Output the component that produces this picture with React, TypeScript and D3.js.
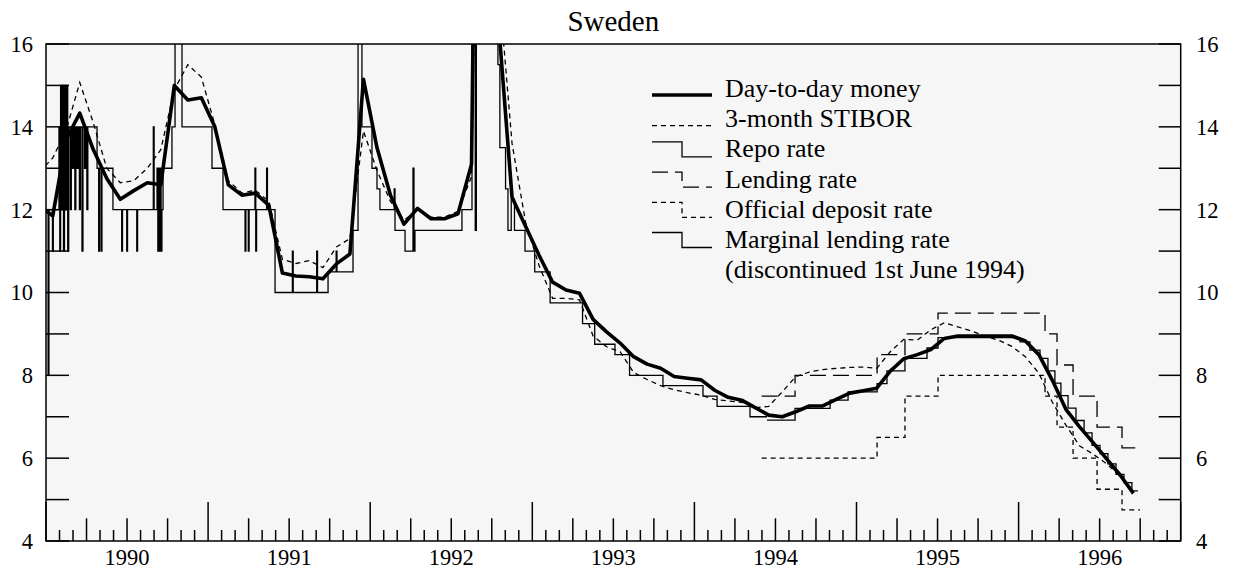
import React from 'react';
import * as d3 from 'd3';

// ---------------- DATA ----------------
const chartTitle = 'Sweden';
const yTickValues = [4, 5, 6, 7, 8, 9, 10, 11, 12, 13, 14, 15, 16];
const yLabelValues = [4, 6, 8, 10, 12, 14, 16];
const yearLabels = [1990, 1991, 1992, 1993, 1994, 1995, 1996];

// monthly averages, first value = Dec 1989, then Jan 1990 ... Sep 1996
const dayToDayMoney = [
  12.1,
  11.85, 13.7, 14.33, 13.45, 12.75, 12.25, 12.46, 12.65, 12.6, 15.0, 14.65, 14.7,
  14.0, 12.6, 12.35, 12.4, 12.1, 10.47, 10.4, 10.38, 10.33, 10.69, 10.93, 15.15,
  13.5, 12.35, 11.65, 12.03, 11.78, 11.78, 11.9, 13.1, 40, 16.5, 12.3, 11.6,
  10.9, 10.25, 10.06, 9.98, 9.35, 9.05, 8.78, 8.45, 8.27, 8.17, 7.97, 7.93,
  7.89, 7.64, 7.47, 7.4, 7.22, 7.04, 7.0, 7.12, 7.26, 7.26, 7.42, 7.57,
  7.63, 7.69, 8.1, 8.4, 8.5, 8.62, 8.89, 8.95, 8.95, 8.95, 8.95, 8.95,
  8.83, 8.5, 7.88, 7.18, 6.76, 6.38, 5.99, 5.6, 5.15,
];

const stibor3m = [
  12.9,
  13.25, 13.93, 15.07, 14.1, 13.0, 12.65, 12.7, 13.0, 13.45, 14.9, 15.5, 15.2,
  14.05, 12.7, 12.4, 12.47, 12.2, 10.8, 10.7, 10.77, 10.6, 11.1, 11.3, 13.9,
  12.95, 12.2, 11.75, 11.99, 11.82, 11.82, 11.96, 12.8, 30, 17.5, 13.6, 11.7,
  10.65, 9.86, 9.86, 9.82, 8.95, 8.69, 8.57, 8.07, 7.9, 7.75, 7.65, 7.58,
  7.52, 7.42, 7.38, 7.35, 7.22, 7.25, 7.6, 7.97, 8.08, 8.14, 8.17, 8.19,
  8.2, 8.17, 8.57, 8.87, 8.85, 9.1, 9.27, 9.17, 9.07, 8.95, 8.85, 8.7,
  8.45, 8.05, 7.35, 6.8, 6.3, 6.1, 5.87, 5.57, 5.2,
];
const monthlyStart = 1989 + 11.5 / 12; // mid-December 1989

// step series: [decimal year, rate]
const marginalLendingRate: [number, number][] = [
  [1990.0, 12], [1990.013, 8], [1990.018, 12], [1990.04, 11], [1990.045, 12],
  [1990.08, 14], [1990.085, 11], [1990.09, 15], [1990.096, 12], [1990.102, 15],
  [1990.108, 11], [1990.114, 15], [1990.122, 12], [1990.128, 15], [1990.134, 11],
  [1990.14, 14], [1990.15, 12], [1990.156, 14], [1990.164, 13], [1990.17, 14],
  [1990.178, 12], [1990.184, 14], [1990.192, 13], [1990.198, 14], [1990.206, 12],
  [1990.212, 14], [1990.222, 11], [1990.228, 14], [1990.238, 13], [1990.244, 14],
  [1990.252, 12], [1990.258, 14], [1990.315, 13], [1990.325, 11], [1990.33, 13],
  [1990.34, 11], [1990.345, 13], [1990.413, 12], [1990.467, 11], [1990.472, 12],
  [1990.498, 11], [1990.503, 12], [1990.56, 11], [1990.565, 12], [1990.662, 14],
  [1990.667, 12], [1990.685, 13], [1990.69, 11], [1990.695, 13], [1990.7, 11],
  [1990.705, 13], [1990.71, 11], [1990.715, 12], [1990.722, 13], [1990.777, 14],
  [1990.796, 20], [1990.839, 14], [1991.024, 13], [1991.092, 12], [1991.228, 11],
  [1991.233, 12], [1991.248, 11], [1991.253, 12], [1991.289, 13], [1991.294, 11],
  [1991.299, 12], [1991.361, 13], [1991.366, 12], [1991.413, 10], [1991.52, 11],
  [1991.525, 10], [1991.67, 11], [1991.675, 10], [1991.74, 10.5], [1991.79, 11],
  [1991.795, 10.5], [1991.894, 11.5], [1991.925, 17.5], [1991.949, 14], [1992.011, 13],
  [1992.042, 12.5], [1992.06, 12], [1992.148, 12.5], [1992.153, 11.5], [1992.215, 11],
  [1992.264, 13], [1992.27, 11], [1992.276, 11.5], [1992.566, 12], [1992.628, 24],
  [1992.648, 11.5], [1992.655, 75], [1992.788, 15.5], [1992.8, 13.5], [1992.835, 12.5],
  [1992.85, 11.5], [1992.87, 12.25], [1992.89, 11.5], [1992.955, 11], [1993.015, 10.5],
  [1993.11, 9.75], [1993.31, 9.25], [1993.385, 8.75], [1993.51, 8.5], [1993.6, 8.0],
  [1993.806, 7.75], [1994.053, 7.5], [1994.14, 7.25], [1994.343, 7.0], [1994.448, 7.0],
];

const repoRate: [number, number][] = [
  [1994.448, 6.92], [1994.621, 7.2], [1994.837, 7.4], [1994.948, 7.6], [1995.127, 7.8],
  [1995.188, 8.11], [1995.299, 8.41], [1995.435, 8.66], [1995.503, 8.91], [1996.009, 8.81],
  [1996.07, 8.61], [1996.132, 8.41], [1996.181, 8.11], [1996.224, 7.81], [1996.261, 7.51],
  [1996.305, 7.21], [1996.354, 6.91], [1996.404, 6.61], [1996.453, 6.31], [1996.502, 6.11],
  [1996.551, 5.86], [1996.601, 5.61], [1996.65, 5.41], [1996.699, 5.21], [1996.736, 5.21],
];

const lendingRate: [number, number][] = [
  [1994.415, 7.5], [1994.621, 8.0], [1995.127, 8.5], [1995.299, 9.0], [1995.503, 9.5],
  [1996.163, 9.0], [1996.237, 8.25], [1996.336, 7.5], [1996.484, 6.75], [1996.638, 6.25],
  [1996.749, 6.25],
];

const depositRate: [number, number][] = [
  [1994.415, 6.0], [1995.127, 6.5], [1995.299, 7.5], [1995.503, 8.0], [1996.163, 7.5],
  [1996.237, 6.75], [1996.336, 6.0], [1996.484, 5.25], [1996.638, 4.75], [1996.749, 4.75],
];

const legendLabels = [
  'Day-to-day money',
  '3-month STIBOR',
  'Repo rate',
  'Lending rate',
  'Official deposit rate',
  'Marginal lending rate',
  '(discontinued 1st June 1994)',
];

// ---------------- LAYOUT ----------------
const W = 1234;
const H = 569;
const M = { left: 46, right: 1180.7, top: 44, bottom: 541 };
const FONT = "'Liberation Serif', 'Times New Roman', Times, serif";
const txt = { fontFamily: FONT };

export default function App() {
  const x = d3.scaleLinear().domain([1990, 1997]).range([M.left, M.right]);
  const y = d3.scaleLinear().domain([4, 16]).range([M.bottom, M.top]);

  const lineGen = d3
    .line<[number, number]>()
    .x((d) => x(d[0]))
    .y((d) => y(d[1]));
  const stepGen = d3
    .line<[number, number]>()
    .x((d) => x(d[0]))
    .y((d) => y(d[1]))
    .curve(d3.curveStepAfter);

  const monthly = (vals: number[]): [number, number][] =>
    vals.map((v, i) => [monthlyStart + i / 12, v]);

  const monthTicks = d3.range(0, 7 * 12 + 1).map((i) => ({
    t: 1990 + i / 12,
    len: i % 12 === 0 ? 39 : i % 3 === 0 ? 22.7 : 11,
  }));

  const legX0 = 652;
  const legX1 = 712;
  const legXm = 682;
  const legText = 725;
  const base = (i: number) => 97 + 30.2 * i;

  const thin = 1.3;

  return (
    <svg
      width={W}
      height={H}
      style={{ position: 'absolute', left: 0, top: 0, background: '#fff' }}
    >
      <defs>
        <clipPath id="plotClip">
          <rect x={M.left} y={M.top} width={M.right - M.left} height={M.bottom - M.top} />
        </clipPath>
      </defs>
      <rect x={M.left} y={M.top} width={M.right - M.left} height={M.bottom - M.top} fill="#f6f6f6" />

      <text x={(M.left + M.right) / 2} y={31} textAnchor="middle" fontSize={29} fill="#000" style={txt}>
        {chartTitle}
      </text>

      {/* series */}
      <g clipPath="url(#plotClip)" fill="none" stroke="#000">
        <path d={stepGen(marginalLendingRate) || ''} strokeWidth={thin} />
        <path d={stepGen(repoRate) || ''} strokeWidth={thin} />
        <path d={stepGen(lendingRate) || ''} strokeWidth={thin} strokeDasharray="16,7" />
        <path d={stepGen(depositRate) || ''} strokeWidth={thin} strokeDasharray="5,4" />
        <path d={lineGen(monthly(stibor3m)) || ''} strokeWidth={thin} strokeDasharray="5,4" />
        <path d={lineGen(monthly(dayToDayMoney)) || ''} strokeWidth={3.6} strokeLinejoin="round" />
      </g>

      {/* frame */}
      <rect
        x={M.left}
        y={M.top}
        width={M.right - M.left}
        height={M.bottom - M.top}
        fill="none"
        stroke="#000"
        strokeWidth={1.5}
      />

      {/* y ticks */}
      {yTickValues.map((v) => (
        <g key={'yt' + v} stroke="#000" strokeWidth={1.5}>
          <line x1={M.left} x2={M.left + 23} y1={y(v)} y2={y(v)} />
          <line x1={M.right - 22} x2={M.right} y1={y(v)} y2={y(v)} />
        </g>
      ))}
      {yLabelValues.map((v) => (
        <g key={'yl' + v} fontSize={22.5} fill="#000" style={txt}>
          <text x={33} y={y(v)} dy="0.35em" textAnchor="end" style={txt}>
            {v}
          </text>
          <text x={1196} y={y(v)} dy="0.35em" textAnchor="start" style={txt}>
            {v}
          </text>
        </g>
      ))}

      {/* x ticks */}
      {monthTicks.map((d, i) => (
        <line
          key={'xt' + i}
          x1={x(d.t)}
          x2={x(d.t)}
          y1={M.bottom}
          y2={M.bottom - d.len}
          stroke="#000"
          strokeWidth={1.5}
        />
      ))}
      {yearLabels.map((yr) => (
        <text
          key={'xl' + yr}
          x={x(yr + 0.5)}
          y={565}
          textAnchor="middle"
          fontSize={22.5}
          fill="#000"
          style={txt}
        >
          {yr}
        </text>
      ))}

      {/* legend */}
      <g fill="none" stroke="#000">
        <line x1={legX0} x2={legX1} y1={base(0) - 2} y2={base(0) - 2} strokeWidth={3.6} />
        <line x1={legX0} x2={legX1} y1={base(1) - 1.5} y2={base(1) - 1.5} strokeWidth={thin} strokeDasharray="5,4" />
        <path d={`M${legX0},${base(2) - 15.5}H${legXm}V${base(2) - 0.5}H${legX1}`} strokeWidth={thin} />
        <path
          d={`M${legX0},${base(3) - 15.5}H${legXm}V${base(3) - 0.5}H${legX1}`}
          strokeWidth={thin}
          strokeDasharray="16,7"
        />
        <path
          d={`M${legX0},${base(4) - 15.5}H${legXm}V${base(4) - 0.5}H${legX1}`}
          strokeWidth={thin}
          strokeDasharray="5,4"
        />
        <path d={`M${legX0},${base(5) - 15.5}H${legXm}V${base(5) - 0.5}H${legX1}`} strokeWidth={thin} />
      </g>
      <g fontSize={26} fill="#000">
        {legendLabels.map((l, i) => (
          <text key={'lg' + i} x={legText} y={base(i)} style={txt}>
            {l}
          </text>
        ))}
      </g>
    </svg>
  );
}
